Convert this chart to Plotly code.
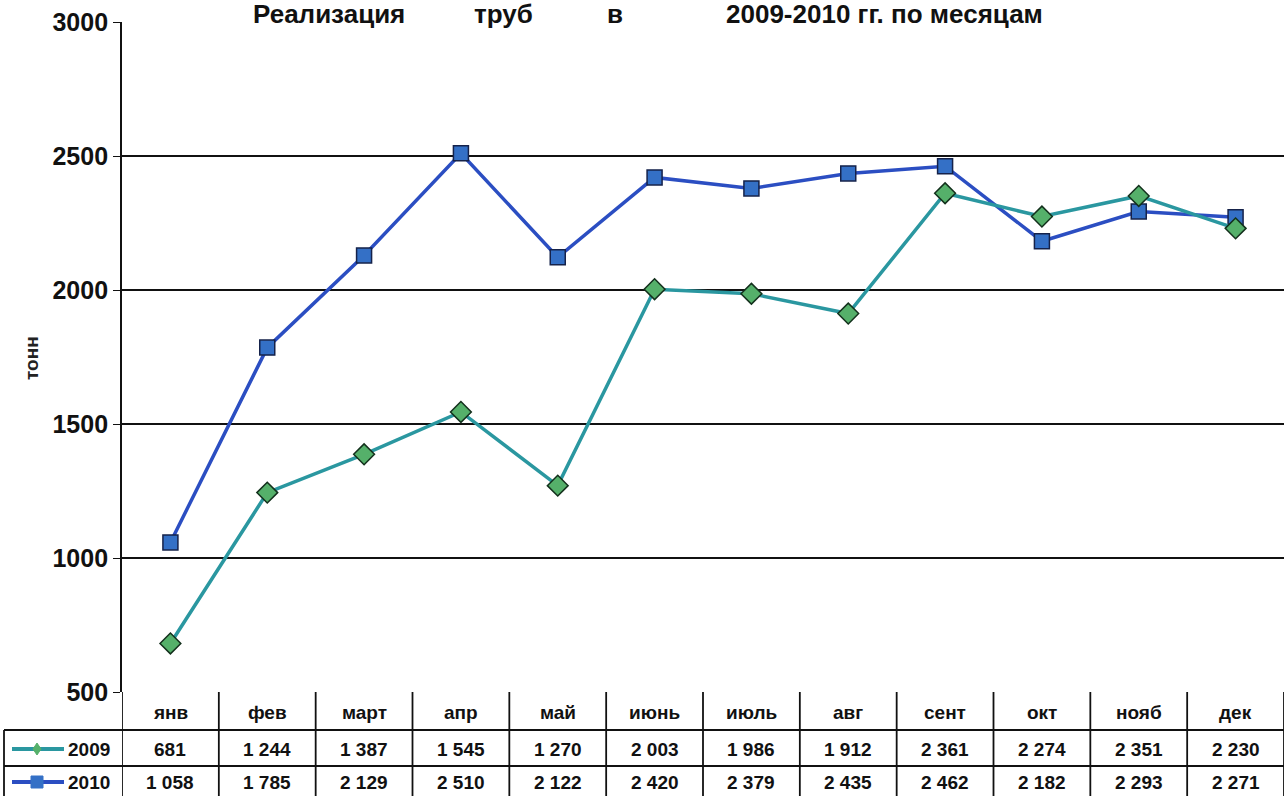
import plotly.graph_objects as go

months = ["янв", "фев", "март", "апр", "май", "июнь", "июль", "авг", "сент", "окт", "нояб", "дек"]
s2009 = [681, 1244, 1387, 1545, 1270, 2003, 1986, 1912, 2361, 2274, 2351, 2230]
s2010 = [1058, 1785, 2129, 2510, 2122, 2420, 2379, 2435, 2462, 2182, 2293, 2271]
series_names = ["2009", "2010"]
yticks = [500, 1000, 1500, 2000, 2500, 3000]
title_words = ["Реализация", "труб", "в", "2009-2010 гг. по месяцам"]
y_title = "тонн"

W, H = 1284, 796
L, R, T, B = 122, 0, 22, 104
PW, PH = W - L - R, H - T - B
FONT = "Liberation Sans, Arial, sans-serif"

C09_LINE = "#2A97A0"
C09_MK = "#55B06A"
C10_LINE = "#2B4EC2"
C10_MK = "#3470C6"


def py2p(py):  # pixel y -> paper y
    return (H - B - py) / PH


def px2p(px):  # pixel x -> paper x
    return (px - L) / PW


x = list(range(len(months)))

fig = go.Figure()
fig.add_trace(go.Scatter(
    x=x, y=s2010, mode="lines+markers", name=series_names[1],
    line=dict(color=C10_LINE, width=3.5),
    marker=dict(symbol="square", size=15, color=C10_MK, line=dict(color="#15224A", width=1.5)),
))
fig.add_trace(go.Scatter(
    x=x, y=s2009, mode="lines+markers", name=series_names[0],
    line=dict(color=C09_LINE, width=3.5),
    marker=dict(symbol="diamond", size=16, color=C09_MK, line=dict(color="#13301C", width=1.5)),
))

shapes = []
annotations = []
font_tbl = dict(family=FONT, size=19, color="#111")

y_top, y_r1, y_r2, y_bot = 692, 730, 766, 800
line_style = dict(color="#111", width=1.8)
for py in (y_r1, y_r2):
    shapes.append(dict(type="line", xref="paper", yref="paper", x0=px2p(4), x1=1,
                       y0=py2p(py), y1=py2p(py), line=line_style))
for i in range(len(months) + 1):
    xb = i - 0.5
    shapes.append(dict(type="line", xref="x", yref="paper", x0=xb, x1=xb,
                       y0=py2p(y_top), y1=py2p(y_bot), line=line_style))
shapes.append(dict(type="line", xref="paper", yref="paper", x0=px2p(4), x1=px2p(4),
                   y0=py2p(y_r1), y1=py2p(y_bot), line=line_style))


def cell(xv, xr, yp, text, xanchor="center"):
    return dict(x=xv, y=yp, xref=xr, yref="paper", text="<b>%s</b>" % text, showarrow=False,
                xanchor=xanchor, yanchor="middle", font=font_tbl)


for i, m in enumerate(months):
    annotations.append(cell(i, "x", py2p((y_top + y_r1) / 2 + 1), m))
    for val, (a, b) in ((s2009[i], (y_r1, y_r2)), (s2010[i], (y_r2, y_bot - 4))):
        t = "{:,}".format(val).replace(",", " ")
        annotations.append(cell(i, "x", py2p((a + b) / 2 + 1), t))

# legend keys inside the table
for name, (a, b), lc, mc, sym in ((series_names[0], (y_r1, y_r2), C09_LINE, C09_MK, "diamond"),
                                  (series_names[1], (y_r2, y_bot - 4), C10_LINE, C10_MK, "square")):
    yc = py2p((a + b) / 2 + 1)
    shapes.append(dict(type="line", xref="paper", yref="paper", x0=px2p(12), x1=px2p(64), y0=yc, y1=yc,
                       line=dict(color=lc, width=4)))
    if sym == "square":
        s = 6
        shapes.append(dict(type="rect", xref="paper", yref="paper", x0=px2p(37 - s), x1=px2p(37 + s),
                           y0=yc - s / PH, y1=yc + s / PH, fillcolor=mc, line=dict(color=mc, width=1)))
    else:
        s = 4
        path = "M {} {} L {} {} L {} {} L {} {} Z".format(px2p(37), yc + 6 / PH, px2p(37 + s), yc,
                                                        px2p(37), yc - 6 / PH, px2p(37 - s), yc)
        shapes.append(dict(type="path", xref="paper", yref="paper", path=path, fillcolor=mc,
                           line=dict(color=mc, width=1)))
    annotations.append(cell(px2p(66), "paper", yc, name, xanchor="left"))

annotations.append(dict(x=px2p(31), y=py2p(358), xref="paper", yref="paper", text="<b>%s</b>" % y_title,
                        textangle=-90, showarrow=False, xanchor="center", yanchor="middle",
                        font=dict(family=FONT, size=19, color="#222")))

for txt, cxp in zip(title_words, [329, 503, 615, 885]):
    annotations.append(dict(x=px2p(cxp), y=py2p(14), xref="paper", yref="paper", text="<b>%s</b>" % txt,
                            showarrow=False, xanchor="center", yanchor="middle",
                            font=dict(family=FONT, size=26, color="#111")))

fig.update_layout(
    width=W, height=H,
    margin=dict(l=L, r=R, t=T, b=B, pad=0),
    paper_bgcolor="white", plot_bgcolor="white",
    showlegend=False,
    shapes=shapes, annotations=annotations,
    xaxis=dict(range=[-0.5, len(months) - 0.5], showticklabels=False, showgrid=False, zeroline=False,
               showline=False, ticks=""),
    yaxis=dict(range=[500, 3000], tickvals=yticks, ticktext=["<b>%d</b>" % v for v in yticks],
               showgrid=True, gridcolor="#111", gridwidth=1.8, zeroline=False,
               showline=True, linecolor="#111", linewidth=1.8, ticks="outside", ticklen=7, tickcolor="#111",
               tickfont=dict(family=FONT, size=25, color="#111")),
)

fig.write_html("out.html", config={"displayModeBar": False},
               post_script="document.body.style.margin='0px';document.body.style.overflow='hidden';")
